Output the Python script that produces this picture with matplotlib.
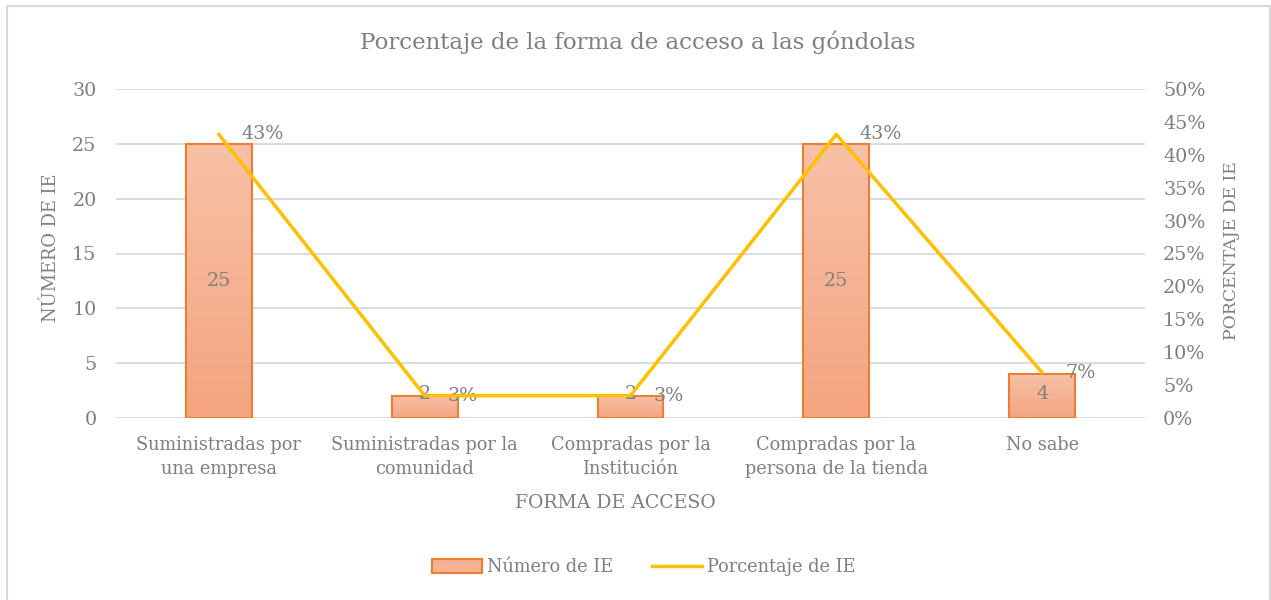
import matplotlib
matplotlib.use("Agg")
import matplotlib.pyplot as plt
import numpy as np
from matplotlib.patches import Rectangle
from matplotlib.lines import Line2D
from matplotlib.colors import LinearSegmentedColormap

categories = ["Suministradas por\nuna empresa", "Suministradas por la\ncomunidad",
              "Compradas por la\nInstitución", "Compradas por la\npersona de la tienda", "No sabe"]
counts = [25, 2, 2, 25, 4]
percents = [0.431, 0.034, 0.034, 0.431, 0.069]
pct_labels = ["43%", "3%", "3%", "43%", "7%"]
left_ticks = [0, 5, 10, 15, 20, 25, 30]
right_ticks = [0, 0.05, 0.10, 0.15, 0.20, 0.25, 0.30, 0.35, 0.40, 0.45, 0.50]

FONT = "DejaVu Serif"
TXT = "#7F7F7F"
plt.rcParams["font.family"] = [FONT]

W, H = 1271, 600
fig = plt.figure(figsize=(W / 100, H / 100), dpi=100)

def fx(px):
    return px / W

def fy(py):
    return 1 - py / H

# chart border
fig.patches.append(Rectangle((fx(7), fy(640)), fx(1270) - fx(7), fy(6) - fy(640),
                             transform=fig.transFigure, fill=False, edgecolor="#D9D9D9",
                             linewidth=1.5))

ax = fig.add_axes([fx(116), fy(418), fx(1145) - fx(116), fy(89) - fy(418)])
x = np.arange(len(categories))
ax.set_yticks(left_ticks)
ax.set_yticklabels([str(t) for t in left_ticks], color=TXT, fontsize=13.8)
ax.tick_params(axis="y", length=0, pad=14)
ax.set_xticks(x)
ax.set_xticklabels(categories, color=TXT, fontsize=12.8, linespacing=1.4)
ax.tick_params(axis="x", length=0, pad=13)
for s in ax.spines.values():
    s.set_visible(False)
ax.grid(axis="y", color="#D9D9D9", linewidth=1.3)
ax.set_axisbelow(True)

cmap = LinearSegmentedColormap.from_list("g", ["#F4A47F", "#F7C1A7"])
bars = ax.bar(x, counts, width=0.32, facecolor="none", edgecolor="#ED7D31", linewidth=1.5, zorder=3)
grad = np.linspace(0, 1, 256).reshape(-1, 1)
for b in bars:
    bx, by = b.get_x(), b.get_y()
    bw, bh = b.get_width(), b.get_height()
    im = ax.imshow(grad, cmap=cmap, origin="lower", aspect="auto",
                   extent=(bx, bx + bw, by, by + bh), zorder=2)
    im.set_clip_path(b)
ax.set_xlim(-0.5, len(categories) - 0.5)
ax.set_ylim(0, 30)
for xi, c in zip(x, counts):
    ax.text(xi, max(c / 2, 2.2), str(c), ha="center", va="center", color=TXT,
            fontsize=13.8, zorder=5)

ax2 = ax.twinx()
ax2.set_ylim(0, 0.5)
ax2.set_yticks(right_ticks)
ax2.set_yticklabels([f"{int(round(t*100))}%" for t in right_ticks], color=TXT, fontsize=13.8)
ax2.tick_params(axis="y", length=0, pad=13)
for s in ax2.spines.values():
    s.set_visible(False)
ax2.plot(x, percents, color="#FFC000", linewidth=2.5, zorder=4)
for xi, p, lab in zip(x, percents, pct_labels):
    ax2.annotate(lab, (xi, p), xytext=(16.5, 0), textcoords="offset points",
                 ha="left", va="center", color=TXT, fontsize=13.8)

fig.text(fx(638), fy(42), "Porcentaje de la forma de acceso a las góndolas",
         ha="center", va="center", color="#7F7F7F", fontsize=16.5)
fig.text(fx(51), fy(248), "NÚMERO DE IE", rotation=90, ha="center", va="center",
         color=TXT, fontsize=12.9)
fig.text(fx(1231), fy(251), "PORCENTAJE DE IE", rotation=90, ha="center", va="center",
         color=TXT, fontsize=12.4)
fig.text(fx(615), fy(503), "FORMA DE ACCESO", ha="center", va="center",
         color=TXT, fontsize=13.6)

handles = [Rectangle((0, 0), 1, 1, facecolor="#F5B191", edgecolor="#ED7D31", linewidth=1.5),
           Line2D([0], [0], color="#FFC000", linewidth=2.5)]
fig.legend(handles, ["Número de IE", "Porcentaje de IE"], loc="center",
           bbox_to_anchor=(fx(644), fy(567)), ncol=2, frameon=False,
           fontsize=12.8, labelcolor=TXT, handlelength=2.8, handleheight=0.8,
           handletextpad=0.3, columnspacing=2.2)

fig.savefig("out.png", dpi=100)
